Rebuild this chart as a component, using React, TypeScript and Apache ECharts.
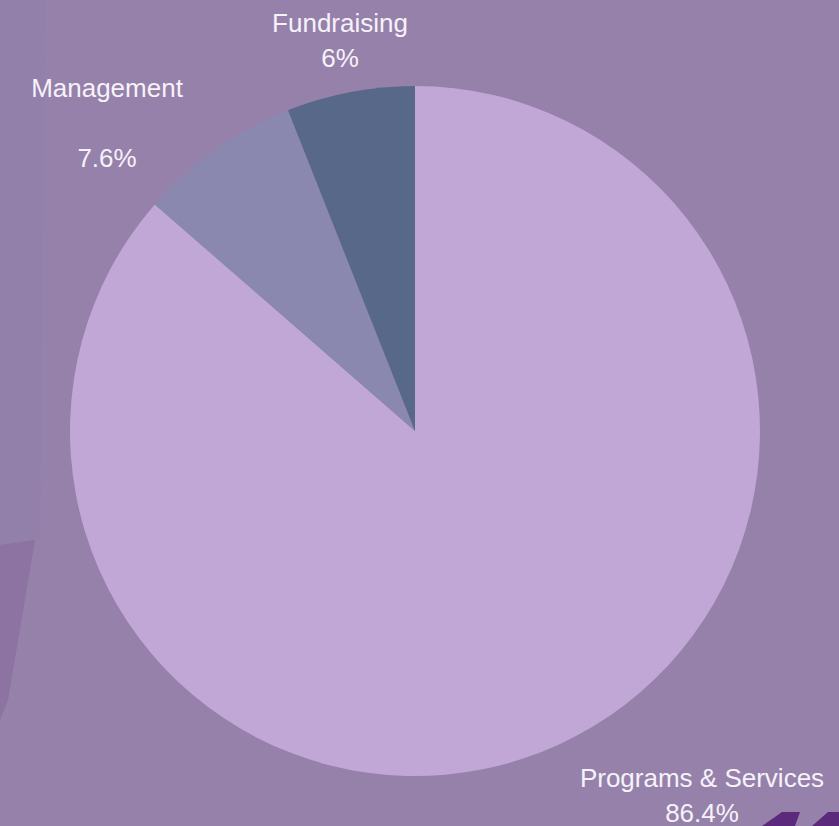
import React, { useEffect, useRef } from "react";
import * as echarts from "echarts";

const categories = ["Programs & Services", "Management", "Fundraising"];
const values = [86.4, 7.6, 6];
const percentLabels = ["86.4%", "7.6%", "6%"];
const sliceColors = ["#c1a7d6", "#8a88ae", "#576889"];

export default function App() {
  const ref = useRef<HTMLDivElement>(null);
  useEffect(() => {
    if (!ref.current) return;
    const chart = echarts.init(ref.current, null, { renderer: "svg" });
    const labelPos = [
      { x: 702, y: 795 },
      { x: 107, y: 123 },
      { x: 340, y: 40 },
    ];
    chart.setOption({
      animation: false,
      backgroundColor: "#9681ab",
      graphic: [
        {
          type: "polygon",
          z: -10,
          shape: { points: [[0, 0], [45, 0], [40, 540], [0, 545]] },
          style: { fill: "#8b7aaa", opacity: 0.35 },
        },
        {
          type: "polygon",
          z: -10,
          shape: { points: [[0, 545], [35, 540], [8, 700], [0, 720]] },
          style: { fill: "#84659a", opacity: 0.5 },
        },
        {
          type: "polygon",
          z: 10,
          shape: { points: [[762, 826], [782, 812], [800, 812], [795, 826]] },
          style: { fill: "#5c2a7c" },
        },
        {
          type: "polygon",
          z: 10,
          shape: { points: [[812, 826], [828, 812], [839, 812], [839, 826]] },
          style: { fill: "#5c2a7c" },
        },
      ],
      series: [
        {
          type: "pie",
          center: [415, 431],
          radius: 345,
          startAngle: 90,
          clockwise: true,
          silent: true,
          label: {
            show: true,
            position: "outside",
            overflow: "none",
            color: "#f6f2f9",
            fontFamily: "Liberation Sans, Arial, sans-serif",
            fontSize: 26,
            lineHeight: 35,
            formatter: (p: any) =>
              p.dataIndex === 1
                ? `${p.name}\n\n${percentLabels[p.dataIndex]}`
                : `${p.name}\n${percentLabels[p.dataIndex]}`,
          },
          labelLine: { show: false },
          labelLayout: (params: any) => ({
            x: labelPos[params.dataIndex].x,
            y: labelPos[params.dataIndex].y,
            align: "center",
            verticalAlign: "middle",
            width: 400,
          }),
          data: categories.map((c, i) => ({
            name: c,
            value: values[i],
            itemStyle: { color: sliceColors[i] },
          })),
        },
      ],
    });
    return () => chart.dispose();
  }, []);
  return (
    <div
      ref={ref}
      style={{ position: "fixed", left: 0, top: 0, width: 839, height: 826 }}
    />
  );
}
